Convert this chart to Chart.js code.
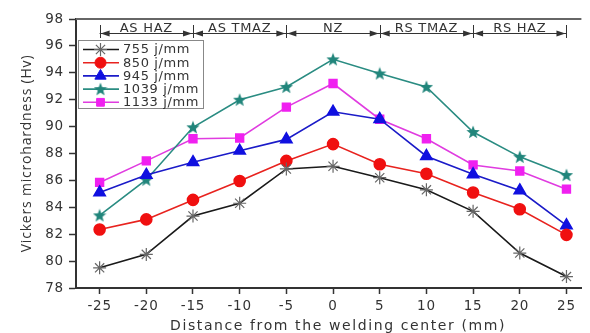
<!DOCTYPE html>
<html>
<head>
<meta charset="utf-8">
<script src="https://cdn.jsdelivr.net/npm/chart.js@4/dist/chart.umd.min.js"></script>
<style>
  html, body { margin: 0; padding: 0; background: #fff; }
  #wrap { width: 590px; height: 333px; }
</style>
</head>
<body>
<div id="wrap"><canvas id="chart"></canvas></div>
<script>
// distance from welding center (mm)
const distances = [-25, -20, -15, -10, -5, 0, 5, 10, 15, 20, 25];
const xTicks = [-25, -20, -15, -10, -5, 0, 5, 10, 15, 20, 25];
const yTicks = [78, 80, 82, 84, 86, 88, 90, 92, 94, 96, 98];

const seriesLabels = ["755 j/mm", "850 j/mm", "945 j/mm", "1039 j/mm", "1133 j/mm"];
const hv755 = [79.5, 80.5, 83.35, 84.3, 86.85, 87.05, 86.2, 85.3, 83.7, 80.6, 78.85];
const hv850 = [82.35, 83.1, 84.55, 85.95, 87.45, 88.7, 87.2, 86.5, 85.1, 83.85, 81.95];
const hv945 = [85.1, 86.4, 87.35, 88.2, 89.05, 91.1, 90.55, 87.8, 86.45, 85.25, 82.65];
const hv1039 = [83.4, 86.05, 89.95, 92.0, 92.95, 95.0, 93.95, 92.95, 89.6, 87.75, 86.4];
const hv1133 = [85.85, 87.45, 89.1, 89.15, 91.45, 93.2, 90.55, 89.1, 87.15, 86.7, 85.35];

// weld zones along the top
const zoneNames = ["AS HAZ", "AS TMAZ", "NZ", "RS TMAZ", "RS HAZ"];
const zoneEdges = [-25, -15, -5, 5, 15, 25];

const FONT = "DejaVu Sans";

// filled 5 point star as point style
function makeStar(size, color) {
  const c = document.createElement("canvas");
  c.width = size; c.height = size;
  const g = c.getContext("2d");
  const cx = size / 2, cy = size / 2, R = size / 2, r = R * 0.42;
  g.beginPath();
  for (let i = 0; i < 10; i++) {
    const rad = i % 2 === 0 ? R : r;
    const a = -Math.PI / 2 + i * Math.PI / 5;
    g.lineTo(cx + rad * Math.cos(a), cy + rad * Math.sin(a) + 0.5);
  }
  g.closePath();
  g.fillStyle = color;
  g.fill();
  return c;
}
const starImg = makeStar(14, "#21857b");

function pts(arr) {
  return arr.map((v, i) => ({ x: distances[i], y: v }));
}

const datasets = [
  { label: seriesLabels[0], data: pts(hv755), borderColor: "#1a1a1a", backgroundColor: "#777",
    pointBorderColor: "#666", pointStyle: "star", pointRadius: 6.5, pointBorderWidth: 1.2 },
  { label: seriesLabels[1], data: pts(hv850), borderColor: "#e8231f", backgroundColor: "#f01010",
    pointBorderColor: "#f01010", pointStyle: "circle", pointRadius: 5.5 },
  { label: seriesLabels[2], data: pts(hv945), borderColor: "#1b1bc8", backgroundColor: "#1010e0",
    pointBorderColor: "#1010e0", pointStyle: "triangle", pointRadius: 6.5 },
  { label: seriesLabels[3], data: pts(hv1039), borderColor: "#2a8c82", backgroundColor: "#21857b",
    pointBorderColor: "#21857b", pointStyle: starImg, pointRadius: 7 },
  { label: seriesLabels[4], data: pts(hv1133), borderColor: "#e03ce0", backgroundColor: "#f020f0",
    pointBorderColor: "#f020f0", pointStyle: "rect", pointRadius: 5.5 }
].map(d => Object.assign({ borderWidth: 1.6, tension: 0, fill: false, pointHoverRadius: 6 }, d));

// top frame line, zone arrows, legend box, x title
const extras = {
  id: "extras",
  beforeDraw(chart) {
    chart.ctx.letterSpacing = "0.8px";
  },
  afterDraw(chart) {
    const { ctx, chartArea } = chart;
    const xs = chart.scales.x;
    ctx.save();

    // top frame
    ctx.strokeStyle = "#666";
    ctx.lineWidth = 2;
    ctx.beginPath();
    ctx.moveTo(chartArea.left, chartArea.top);
    ctx.lineTo(chartArea.right, chartArea.top);
    ctx.stroke();

    // zone dimension lines
    const yl = 33;
    ctx.strokeStyle = "#333";
    ctx.fillStyle = "#333";
    ctx.lineWidth = 1;
    const ex = zoneEdges.map(v => xs.getPixelForValue(v));
    ctx.beginPath();
    ctx.moveTo(ex[0], yl + 0.5);
    ctx.lineTo(ex[ex.length - 1], yl + 0.5);
    ex.forEach(x => {
      ctx.moveTo(Math.round(x) + 0.5, yl - 8);
      ctx.lineTo(Math.round(x) + 0.5, yl + 5);
    });
    ctx.stroke();
    for (let i = 0; i < zoneNames.length; i++) {
      const a = ex[i] + 1, b = ex[i + 1] - 1;
      ctx.beginPath();
      ctx.moveTo(a, yl + 0.5); ctx.lineTo(a + 9, yl - 2.5); ctx.lineTo(a + 9, yl + 3.5); ctx.closePath();
      ctx.moveTo(b, yl + 0.5); ctx.lineTo(b - 9, yl - 2.5); ctx.lineTo(b - 9, yl + 3.5); ctx.closePath();
      ctx.fill();
      ctx.font = "13px " + FONT;
      ctx.letterSpacing = "0.7px";
      ctx.textAlign = "center";
      ctx.textBaseline = "alphabetic";
      ctx.fillText(zoneNames[i], (ex[i] + ex[i + 1]) / 2, yl - 1);
    }

    // legend
    const lx = 78, ly = 40, lw = 125, lh = 68;
    ctx.letterSpacing = "0px";
    ctx.fillStyle = "#fff";
    ctx.fillRect(lx, ly, lw, lh);
    ctx.strokeStyle = "#888";
    ctx.lineWidth = 1;
    ctx.strokeRect(lx + 0.5, ly + 0.5, lw, lh);
    chart.data.datasets.forEach((ds, i) => {
      const cy = 49.5 + i * 13.2;
      ctx.strokeStyle = ds.borderColor;
      ctx.lineWidth = 1.6;
      ctx.beginPath();
      ctx.moveTo(83, cy); ctx.lineTo(119, cy);
      ctx.stroke();
      ctx.fillStyle = ds.backgroundColor;
      ctx.strokeStyle = ds.pointBorderColor;
      ctx.lineWidth = ds.pointBorderWidth || 1;
      Chart.helpers.drawPoint(ctx, { pointStyle: ds.pointStyle, radius: ds.pointRadius, rotation: 0, borderWidth: ds.pointBorderWidth || 1 }, 100.5, cy);
      ctx.fillStyle = "#333";
      ctx.font = "13px " + FONT;
      ctx.letterSpacing = "0.6px";
      ctx.textAlign = "left";
      ctx.textBaseline = "middle";
      ctx.fillText(ds.label, 123, cy + 0.5);
    });

    // x title
    ctx.fillStyle = "#333";
    ctx.font = "14px " + FONT;
    ctx.letterSpacing = "1.6px";
    ctx.textAlign = "center";
    ctx.textBaseline = "middle";
    ctx.fillText("Distance from the welding center (mm)", 338, 326);
    ctx.restore();
  }
};

new Chart(document.getElementById("chart"), {
  type: "line",
  data: { datasets },
  plugins: [extras],
  options: {
    responsive: true,
    maintainAspectRatio: false,
    animation: false,
    layout: { padding: { top: 19, right: 0, left: 0, bottom: 0 } },
    plugins: { legend: { display: false }, tooltip: { enabled: false } },
    scales: {
      x: {
        type: "linear",
        min: -27.53,
        max: 26.6,
        afterBuildTicks: (s) => { s.ticks = xTicks.map(v => ({ value: v })); },
        afterFit: (s) => { s.height = 45; },
        grid: { display: true, drawOnChartArea: false, drawTicks: true, tickLength: 6, color: "#333", tickWidth: 1.5 },
        border: { display: true, color: "#333", width: 2 },
        ticks: { color: "#333", padding: 4, font: { family: FONT, size: 13.5 }, callback: (v) => String(v) }
      },
      y: {
        min: 78,
        max: 98,
        afterBuildTicks: (s) => { s.ticks = yTicks.map(v => ({ value: v })); },
        afterFit: (s) => { s.width = 76; },
        grid: { display: true, drawOnChartArea: false, drawTicks: true, tickLength: 7, color: "#333", tickWidth: 1.5 },
        border: { display: true, color: "#333", width: 2 },
        ticks: { color: "#333", padding: 5, font: { family: FONT, size: 13.5 } },
        title: { display: true, text: "Vickers microhardness (Hv)", color: "#333", padding: { top: 19, bottom: 0 },
          font: { family: "Open Sans", size: 14 } }
      }
    }
  }
});
</script>
</body>
</html>
